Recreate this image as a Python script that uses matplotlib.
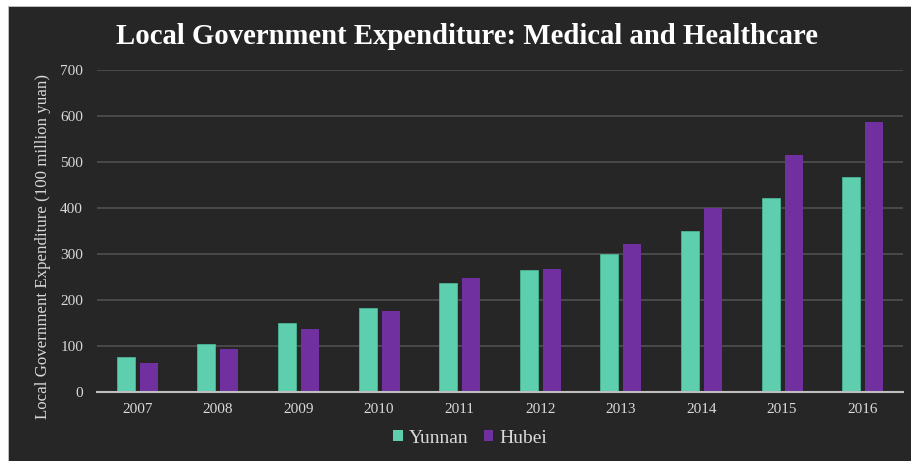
import matplotlib
matplotlib.use("Agg")
import matplotlib.pyplot as plt
from matplotlib.patches import Rectangle, Patch
import numpy as np

years = ["2007", "2008", "2009", "2010", "2011", "2012", "2013", "2014", "2015", "2016"]
yunnan = [76, 104, 150, 182, 236, 266, 300, 351, 422, 467]
hubei = [64, 93, 138, 177, 247, 267, 322, 400, 515, 588]
series_names = ["Yunnan", "Hubei"]

BG = "#262626"
C_YUNNAN = "#5DCFAE"
C_HUBEI = "#7030A0"
TXT = "#D9D9D9"

plt.rcParams["font.family"] = ["Liberation Serif", "DejaVu Serif"]

W, H = 912, 461
fig = plt.figure(figsize=(W / 100, H / 100), dpi=100)
fig.patch.set_facecolor("white")

# dark card with thin light frame
fig.patches.append(Rectangle((8 / W, 0), 1, 1 - 6 / H, transform=fig.transFigure,
                             facecolor="#BDBDBD", edgecolor="none", zorder=-10))
fig.patches.append(Rectangle((9.5 / W, 0), 1, 1 - 7.5 / H, transform=fig.transFigure,
                             facecolor=BG, edgecolor="none", zorder=-9))

left, right = 97 / W, 903 / W
bottom, top = 1 - 392 / H, 1 - 70 / H
ax = fig.add_axes([left, bottom, right - left, top - bottom])
ax.set_facecolor(BG)
ax.patch.set_alpha(0)

x = np.arange(len(years))
bw = 0.225
off = 0.143
ax.bar(x - off, yunnan, bw, color=C_YUNNAN, edgecolor="#4BB596", linewidth=0.6, zorder=3)
ax.bar(x + off, hubei, bw, color=C_HUBEI, zorder=3)

ax.set_xlim(-0.5, len(years) - 0.5)
ax.set_ylim(0, 700)
ax.set_yticks(range(0, 701, 100))
ax.set_xticks(x)
ax.set_xticklabels(years)
ax.yaxis.grid(True, color="#505050", linewidth=1.2, zorder=0)
ax.set_axisbelow(True)
for s in ["top", "right", "left"]:
    ax.spines[s].set_visible(False)
ax.spines["bottom"].set_color("#BFBFBF")
ax.spines["bottom"].set_linewidth(1.5)
ax.spines["bottom"].set_zorder(4)
ax.tick_params(axis="both", length=0, colors=TXT, labelsize=11)
ax.tick_params(axis="y", pad=10)
ax.tick_params(axis="x", pad=8)

fig.text(43 / W, 1 - 246.5 / H, "Local Government Expenditure (100 million yuan)",
         rotation=90, ha="center", va="center", color=TXT, fontsize=12.2)

fig.text(467 / W, 1 - 37 / H, "Local Government Expenditure: Medical and Healthcare",
         ha="center", va="center", color="white", fontsize=20.7, fontweight="bold")

handles = [Patch(facecolor=C_YUNNAN), Patch(facecolor=C_HUBEI)]
leg = fig.legend(handles, series_names, loc="center", bbox_to_anchor=(470 / W, 1 - 438 / H),
                 ncol=2, frameon=False, fontsize=14, handlelength=0.5, handleheight=0.5,
                 handletextpad=0.3, columnspacing=0.8, labelcolor=TXT)

fig.savefig("out.png", dpi=100, facecolor=fig.get_facecolor())
